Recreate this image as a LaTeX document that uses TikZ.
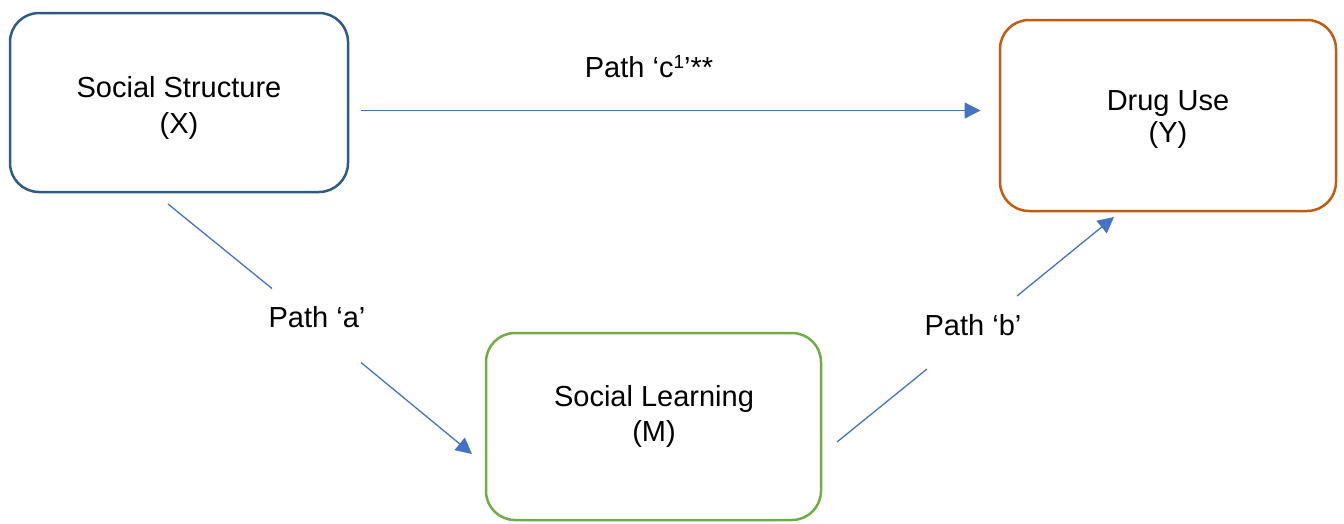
\documentclass[tikz,border=0pt]{standalone}
\usepackage{fontspec}
\setmainfont{Liberation Sans}
\usetikzlibrary{arrows.meta}
\definecolor{boxblue}{HTML}{2E5B86}
\definecolor{boxorange}{HTML}{C55A11}
\definecolor{boxgreen}{HTML}{70AD47}
\definecolor{linkblue}{HTML}{4472C4}
\newcommand{\supone}{\raisebox{9pt}{\fontsize{19}{19}\selectfont 1}}
\begin{document}
\begin{tikzpicture}[x=1pt,y=-1pt,
  box/.style={draw, line width=2.5pt, rounded corners=29pt, inner sep=0pt},
  txt/.style={anchor=base, inner sep=0pt, font=\fontsize{29}{35}\selectfont},
  link/.style={draw=linkblue, line width=1.3pt},
  tip/.style={-{Triangle[length=16pt,width=16pt]}}]
\useasboundingbox (0,0) rectangle (1344,523);

% the three variables
\node[box, draw=boxblue,   minimum width=338pt, minimum height=179pt] (X) at (179,102.5) {};
\node[box, draw=boxorange, minimum width=336pt, minimum height=191pt] (Y) at (1168,115.5) {};
\node[box, draw=boxgreen,  minimum width=335pt, minimum height=187pt] (M) at (653.5,426.5) {};

\node[txt] (X1) at (179,97)  {Social Structure};
\node[txt] (X2) at (179,133) {(X)};
\node[txt] (Y1) at (1168,110) {Drug Use};
\node[txt] (Y2) at (1168,142) {(Y)};
\node[txt] (M1) at (654,406) {Social Learning};
\node[txt] (M2) at (654,441) {(M)};

% path labels
\node[txt] (lc) at (649,77)  {Path ‘c\supone’**};
\node[txt] (la) at (317,327) {Path ‘a’};
\node[txt] (lb) at (973,335) {Path ‘b’};

% line end points
\coordinate (c0) at (361,110.5);
\coordinate (c1) at (980.5,110.5);
\coordinate (a0) at (168,204);
\coordinate (a1) at (272,288.5);
\coordinate (a2) at (361,362.5);
\coordinate (a3) at (472,454);
\coordinate (b0) at (837,442);
\coordinate (b1) at (927,369);
\coordinate (b2) at (1017,296);
\coordinate (b3) at (1114,217);

% direct path c'
\draw[link,tip] (c0) -- (c1);
% path a, broken around its label
\draw[link] (a0) -- (a1);
\draw[link,tip] (a2) -- (a3);
% path b, broken around its label
\draw[link] (b0) -- (b1);
\draw[link,tip] (b2) -- (b3);
\end{tikzpicture}
\end{document}
